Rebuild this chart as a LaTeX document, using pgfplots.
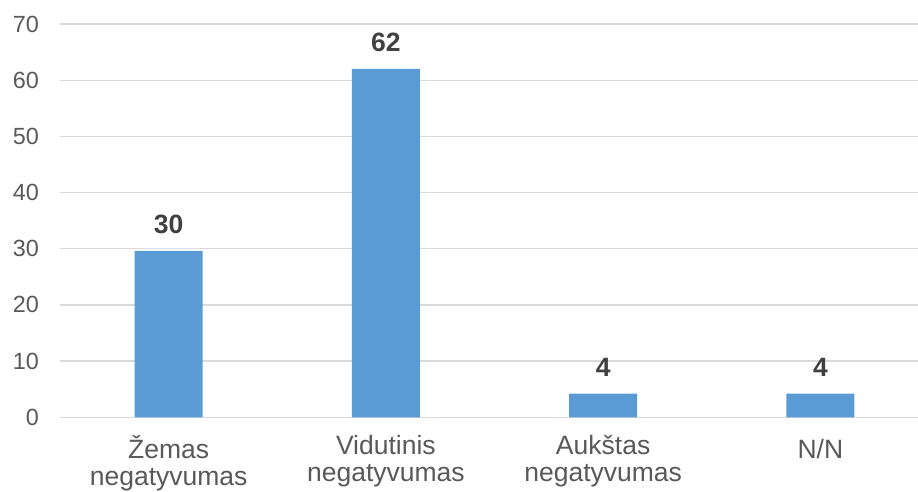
\documentclass[border=0pt]{standalone}
\usepackage{pgfplots}
\pgfplotsset{compat=1.18}
\usepackage{fontspec}
\setmainfont{Liberation Sans}
\definecolor{barblue}{HTML}{5B9BD5}
\definecolor{ticktext}{HTML}{595959}
\definecolor{labtext}{HTML}{404040}
\definecolor{gridc}{HTML}{D9D9D9}
\begin{document}
\begin{tikzpicture}
\clip (-60bp,-74.7bp) rectangle (858bp,417.3bp);
\begin{axis}[
  width=869bp, height=393.3bp, scale only axis,
  ymin=0, ymax=70, ytick={0,10,...,70},
  xmin=-0.5, xmax=3.5,
  xtick={0,1,2,3},
  xticklabels={{Žemas\\negatyvumas},{Vidutinis\\negatyvumas},{Aukštas\\negatyvumas},{\vphantom{Ž}N/N}},
  axis line style={draw=none},
  major tick length=0pt,
  ymajorgrids, grid style={gridc, line width=1.3bp},
  /pgf/number format/assume math mode=true,
  yticklabel style={font=\fontsize{23.4bp}{27bp}\selectfont, text=ticktext, anchor=east, inner sep=0pt, xshift=-21bp},
  xticklabel style={font=\fontsize{26.5bp}{27bp}\selectfont, text=ticktext, align=center, anchor=north, inner sep=0pt, yshift=-18bp},
  ybar, bar width=68bp,
  nodes near coords,
  nodes near coords style={font=\bfseries\fontsize{26.5bp}{30bp}\selectfont, text=labtext, inner sep=0pt, yshift=17bp, /pgf/number format/fixed, /pgf/number format/precision=0},
]
\addplot[fill=barblue, draw=none] coordinates {(0,29.6) (1,62) (2,4.2) (3,4.2)};
\end{axis}
\end{tikzpicture}
\end{document}
